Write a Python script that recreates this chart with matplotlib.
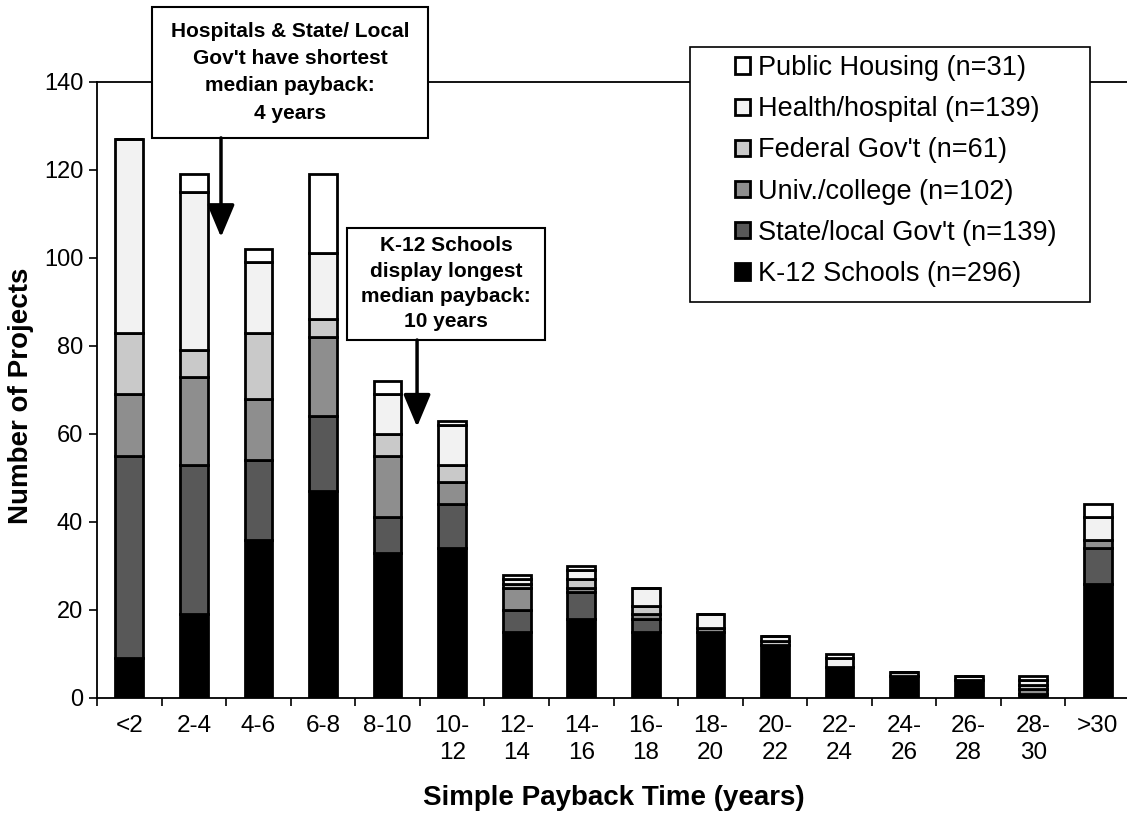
import matplotlib
matplotlib.use('Agg')
from matplotlib import pyplot as plt
from matplotlib.patches import Rectangle
import numpy as np

plt.rcParams['font.family'] = ['Liberation Sans', 'DejaVu Sans']

categories = ['<2', '2-4', '4-6', '6-8', '8-10', '10-\n12', '12-\n14', '14-\n16',
              '16-\n18', '18-\n20', '20-\n22', '22-\n24', '24-\n26', '26-\n28',
              '28-\n30', '>30']

# stacked bottom to top
k12 = [9, 19, 36, 47, 33, 34, 15, 18, 15, 15, 12, 7, 5, 4, 1, 26]
state = [46, 34, 18, 17, 8, 10, 5, 6, 3, 0, 0, 0, 0, 0, 0, 8]
univ = [14, 20, 14, 18, 14, 5, 5, 1, 1, 1, 0, 0, 0, 0, 1, 2]
fed = [14, 6, 15, 4, 5, 4, 1, 2, 2, 0, 1, 0, 1, 0, 1, 0]
health = [44, 36, 16, 15, 9, 9, 1, 2, 4, 3, 1, 2, 0, 1, 1, 5]
public = [0, 4, 3, 18, 3, 1, 1, 1, 0, 0, 0, 1, 0, 0, 1, 3]

series = [k12, state, univ, fed, health, public]
labels = ['K-12 Schools (n=296)', 'State/local Gov\'t (n=139)', 'Univ./college (n=102)',
          'Federal Gov\'t (n=61)', 'Health/hospital (n=139)', 'Public Housing (n=31)']
colors = ['black', '#585858', '#8e8e8e', '#c9c9c9', '#f2f2f2', 'white']

fig = plt.figure(figsize=(11.27, 8.23), dpi=100)
ax = fig.add_axes([0.0861, 0.152, 0.9166, 0.7485])

x = np.arange(len(categories))
bottom = np.zeros(len(categories))
handles = []
for vals, lab, col in zip(series, labels, colors):
    vals = np.array(vals)
    b = ax.bar(x, vals, 0.43, bottom=bottom, color=col, edgecolor='black',
               linewidth=2.0, label=lab, zorder=3)
    handles.append(b)
    bottom += vals

ax.set_xlim(-0.5, len(categories) - 0.5)
ax.set_ylim(0, 140)
ax.set_yticks(np.arange(0, 141, 20))
ax.set_xticks(x)
ax.set_xticklabels(categories, fontsize=17.5, linespacing=1.3)
ax.set_xticks(np.arange(-0.5, len(categories), 1), minor=True)
ax.tick_params(axis='x', which='major', length=0, pad=12)
ax.tick_params(axis='x', which='minor', length=6, width=1.2, direction='out')
ax.tick_params(axis='y', labelsize=17, length=6, width=1.2, direction='out', pad=4)

for s in ['left', 'bottom', 'top']:
    ax.spines[s].set_linewidth(1.3)
ax.spines['right'].set_visible(False)

ax.set_ylabel('Number of Projects', fontsize=20, fontweight='bold')
ax.yaxis.set_label_coords(-0.061, 0.49)
ax.set_xlabel('Simple Payback Time (years)', fontsize=20, fontweight='bold')
ax.xaxis.set_label_coords(0.5, -0.142)

# legend frame drawn separately (wide left margin as in the original)
ax.add_patch(Rectangle((0.6122, 0.6330), 0.3550, 0.3099, transform=fig.transFigure,
                       facecolor='white', edgecolor='black', linewidth=1.2,
                       clip_on=False, zorder=9))
leg = ax.legend(handles[::-1], labels[::-1], loc='upper left',
                bbox_to_anchor=(0.652, 0.933), bbox_transform=fig.transFigure,
                fontsize=19.5, frameon=False, handlelength=0.55, handleheight=0.55,
                handletextpad=0.3, labelspacing=0.56, borderpad=0,
                borderaxespad=0)
leg.set_zorder(10)

# annotation boxes
boxes = [
    ((0.0532, 0.9091), 0.2673, 0.2127, 'Hospitals & State/ Local\nGov\'t have shortest\nmedian payback:\n4 years', 0.120, 0.748, 1.55),
    ((0.2420, 0.5810), 0.1917, 0.1820, 'K-12 Schools\ndisplay longest\nmedian payback:\n10 years', 0.3098, 0.440, 1.42),
]
for (bx, by), bw, bh, txt, ax_x, tip, ls in boxes:
    ax.add_patch(Rectangle((bx, by), bw, bh, transform=ax.transAxes, facecolor='white',
                           edgecolor='black', linewidth=1.5, clip_on=False, zorder=8))
    ax.text(bx + bw / 2, by + bh / 2, txt, transform=ax.transAxes, ha='center',
            va='center', fontsize=15, fontweight='bold', linespacing=ls, zorder=9)
    ax.annotate('', xy=(ax_x, tip), xytext=(ax_x, by), xycoords='axes fraction',
                arrowprops=dict(arrowstyle='-|>,head_width=0.42,head_length=1.0',
                                color='black', lw=2.5, mutation_scale=20,
                                shrinkA=0, shrinkB=0), zorder=9)

plt.savefig('out.png', dpi=100)
